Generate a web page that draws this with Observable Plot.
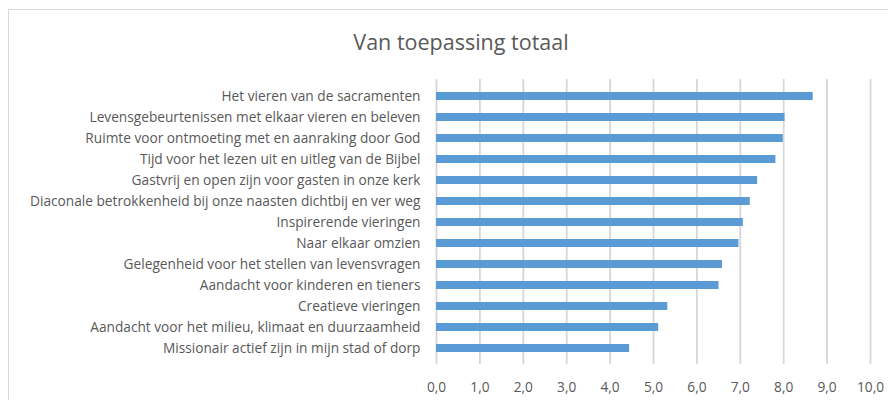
<!DOCTYPE html>
<html>
<head>
<meta charset="utf-8">
<script src="https://cdn.jsdelivr.net/npm/d3@7"></script>
<script src="https://cdn.jsdelivr.net/npm/@observablehq/plot@0.6"></script>
<style>
  body { margin: 0; background: #fff; }
  #wrap { position: relative; width: 888px; height: 400px; overflow: hidden; }
  #frame { position: absolute; left: 8px; top: 9px; width: 900px; height: 420px; border: 1px solid #d9d9d9; box-sizing: border-box; }
  #title { position: absolute; left: 0; width: 922px; top: 27px; text-align: center; font-family: "Open Sans", sans-serif; font-size: 21.5px; color: #595959; }
  #chart { position: absolute; left: 0; top: 0; }
</style>
</head>
<body>
<div id="wrap">
  <div id="frame"></div>
  <div id="title">Van toepassing totaal</div>
  <div id="chart"></div>
</div>
<script>
const categories = [
  "Het vieren van de sacramenten",
  "Levensgebeurtenissen met elkaar vieren en beleven",
  "Ruimte voor ontmoeting met en aanraking door God",
  "Tijd voor het lezen uit en uitleg van de Bijbel",
  "Gastvrij en open zijn voor gasten in onze kerk",
  "Diaconale betrokkenheid bij onze naasten dichtbij en ver weg",
  "Inspirerende vieringen",
  "Naar elkaar omzien",
  "Gelegenheid voor het stellen van levensvragen",
  "Aandacht voor kinderen en tieners",
  "Creatieve vieringen",
  "Aandacht voor het milieu, klimaat en duurzaamheid",
  "Missionair actief zijn in mijn stad of dorp"
];
const values = [8.68, 8.03, 7.99, 7.82, 7.40, 7.23, 7.07, 6.97, 6.59, 6.51, 5.33, 5.12, 4.45];
const xTicks = [0, 1, 2, 3, 4, 5, 6, 7, 8, 9, 10];

const data = categories.map((c, i) => ({category: c, value: values[i]}));

const chart = Plot.plot({
  width: 888,
  height: 400,
  marginTop: 72,
  marginBottom: 29,
  marginLeft: 436,
  marginRight: 18,
  style: {fontFamily: "'Open Sans', sans-serif", fontSize: "13.7px", color: "#595959", background: "transparent"},
  x: {domain: [0, 10], ticks: xTicks},
  y: {domain: categories, padding: 0.63},
  marks: [
    Plot.ruleX(xTicks, {stroke: "#d6d6d6", strokeWidth: 1.8, insetTop: 7, insetBottom: 7}),
    Plot.barX(data, {x: "value", y: "category", fill: "#5b9bd5"}),
    Plot.axisX({ticks: xTicks, tickSize: 0, tickPadding: 11, tickFormat: d => d.toFixed(1).replace(".", ","), label: null, fill: "#595959"}),
    Plot.axisY({tickSize: 0, tickPadding: 16, label: null, fill: "#595959"})
  ]
});
document.getElementById("chart").appendChild(chart);
</script>
</body>
</html>
